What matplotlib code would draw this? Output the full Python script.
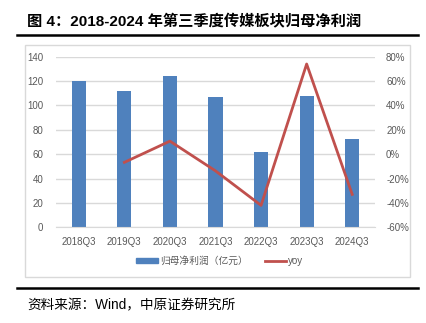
import numpy as np
import matplotlib.pyplot as plt
from matplotlib.lines import Line2D
from matplotlib.patches import Rectangle

plt.rcParams['font.family'] = ['Liberation Sans', 'Noto Sans CJK SC']

quarters = ["2018Q3", "2019Q3", "2020Q3", "2021Q3", "2022Q3", "2023Q3", "2024Q3"]
profit = [120, 112, 124, 107, 62, 108, 72.6]          # 归母净利润（亿元）
yoy = [np.nan, -6.7, 10.7, -13.7, -42.0, 74.0, -33.0]  # 同比 %

bar_color = "#4F81BD"
line_color = "#C0504D"
tick_color = "#595959"
grid_color = "#D9D9D9"

fig = plt.figure(figsize=(4.27, 3.23), dpi=100)

# title + rules
fig.text(27 / 427, 1 - 21.5 / 323, "图 4：2018-2024 年第三季度传媒板块归母净利润",
         fontsize=11, fontweight="bold", va="center", ha="left",
         family=["Liberation Sans", "Noto Sans CJK SC"])
fig.add_artist(Line2D([17 / 427, 418 / 427], [1 - 34.5 / 323] * 2, color="black", lw=1.8))
fig.add_artist(Line2D([17 / 427, 418 / 427], [1 - 288 / 323] * 2, color="black", lw=1.8))
fig.text(27 / 427, 1 - 305 / 323, "资料来源：Wind，中原证券研究所",
         fontsize=9.8, va="center", ha="left",
         family=["Liberation Sans", "Noto Sans CJK SC"])

# chart frame
fig.add_artist(Rectangle((25 / 427, 1 - 277 / 323), 385 / 427, 232 / 323,
                         fill=False, edgecolor=grid_color, lw=1.0))

ax = fig.add_axes([56 / 427, 1 - 227.3 / 323, 319 / 427, 170.6 / 323])
x = np.arange(len(quarters))
ax.bar(x, profit, width=0.31, color=bar_color, zorder=2)
ax.set_xlim(-0.5, len(quarters) - 0.5)
ax.set_ylim(0, 140)
ax.set_yticks(range(0, 141, 20))
ax.yaxis.grid(True, color=grid_color, lw=1.0, zorder=0)
ax.set_axisbelow(True)
ax.set_xticks(x)
ax.set_xticklabels(quarters)
for s in ax.spines.values():
    s.set_visible(False)
ax.spines["bottom"].set_visible(True)
ax.spines["bottom"].set_color(grid_color)
ax.tick_params(axis="both", length=0, labelsize=7, labelcolor=tick_color)
ax.tick_params(axis="x", pad=7)
ax.tick_params(axis="y", pad=9)

ax2 = ax.twinx()
ax2.plot(x, yoy, color=line_color, lw=2.0, zorder=3)
ax2.set_ylim(-60, 80)
ax2.set_yticks(range(-60, 81, 20))
ax2.set_yticklabels([f"{v}%" for v in range(-60, 81, 20)])
for s in ax2.spines.values():
    s.set_visible(False)
ax2.tick_params(axis="y", length=0, labelsize=7, labelcolor=tick_color, pad=8)

handles = [Rectangle((0, 0), 1, 1, color=bar_color),
           Line2D([0], [0], color=line_color, lw=2.0)]
fig.legend(handles, ["归母净利润（亿元）", "yoy"], loc="center",
           bbox_to_anchor=(220 / 427, 1 - 261 / 323), ncol=2, frameon=False,
           labelcolor=tick_color, handlelength=2.2, handleheight=0.5,
           handletextpad=0.2, columnspacing=1.8,
           prop={"family": ["Liberation Sans", "Noto Sans CJK SC"], "size": 7})

fig.savefig("out.png", dpi=100)
